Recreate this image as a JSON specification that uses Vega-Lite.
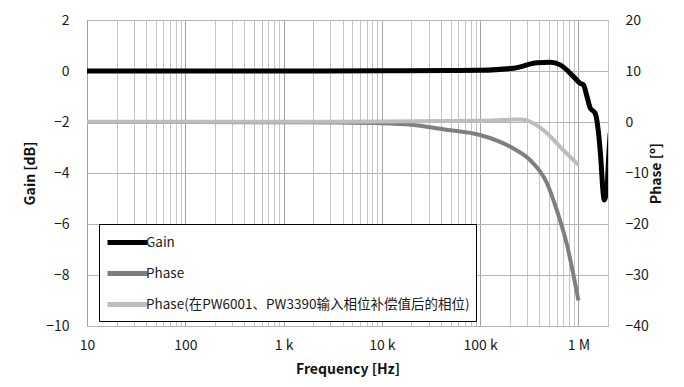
{
  "$schema": "https://vega.github.io/schema/vega-lite/v6.json",
  "width": 521,
  "height": 306,
  "autosize": {"type": "none"},
  "padding": {"left": 87, "top": 20, "right": 76, "bottom": 61},
  "background": "white",
  "config": {
    "view": {"stroke": "#a6a6a6", "strokeWidth": 1},
    "font": "Noto Sans CJK SC",
    "axis": {"labelFont": "Noto Sans CJK SC", "titleFont": "Noto Sans CJK SC", "labelColor": "#1a1a1a", "titleColor": "#111"}
  },
  "data": {
    "values": [
      {"f": 10, "s": "Gain", "v": 0},
      {"f": 100, "s": "Gain", "v": 0},
      {"f": 1000, "s": "Gain", "v": 0},
      {"f": 10000, "s": "Gain", "v": 0.01},
      {"f": 50000, "s": "Gain", "v": 0.02},
      {"f": 100000, "s": "Gain", "v": 0.03},
      {"f": 220000, "s": "Gain", "v": 0.11},
      {"f": 378000, "s": "Gain", "v": 0.32},
      {"f": 516000, "s": "Gain", "v": 0.34},
      {"f": 653000, "s": "Gain", "v": 0.24},
      {"f": 891000, "s": "Gain", "v": -0.22},
      {"f": 1042000, "s": "Gain", "v": -0.48},
      {"f": 1127000, "s": "Gain", "v": -0.55},
      {"f": 1222000, "s": "Gain", "v": -1.0},
      {"f": 1318000, "s": "Gain", "v": -1.45},
      {"f": 1483000, "s": "Gain", "v": -1.66},
      {"f": 1603000, "s": "Gain", "v": -2.44},
      {"f": 1694000, "s": "Gain", "v": -3.49},
      {"f": 1774000, "s": "Gain", "v": -4.67},
      {"f": 1828000, "s": "Gain", "v": -5.06},
      {"f": 1950000, "s": "Gain", "v": -4.67},
      {"f": 2023000, "s": "Gain", "v": -3.49},
      {"f": 2104000, "s": "Gain", "v": -2.43},
      {"f": 10, "s": "Phase", "v": 0},
      {"f": 100, "s": "Phase", "v": 0},
      {"f": 1000, "s": "Phase", "v": -0.05},
      {"f": 3000, "s": "Phase", "v": -0.1},
      {"f": 10000, "s": "Phase", "v": -0.25},
      {"f": 20000, "s": "Phase", "v": -0.55},
      {"f": 44700, "s": "Phase", "v": -1.5},
      {"f": 100000, "s": "Phase", "v": -2.55},
      {"f": 218000, "s": "Phase", "v": -5.2},
      {"f": 324000, "s": "Phase", "v": -7.5},
      {"f": 479000, "s": "Phase", "v": -12},
      {"f": 603000, "s": "Phase", "v": -17.3},
      {"f": 759000, "s": "Phase", "v": -23.8},
      {"f": 1000000, "s": "Phase", "v": -35},
      {"f": 10, "s": "Phase(在PW6001、PW3390输入相位补偿值后的相位)", "v": 0.05},
      {"f": 1000, "s": "Phase(在PW6001、PW3390输入相位补偿值后的相位)", "v": 0.05},
      {"f": 10000, "s": "Phase(在PW6001、PW3390输入相位补偿值后的相位)", "v": 0.08},
      {"f": 100000, "s": "Phase(在PW6001、PW3390输入相位补偿值后的相位)", "v": 0.25},
      {"f": 200000, "s": "Phase(在PW6001、PW3390输入相位补偿值后的相位)", "v": 0.45},
      {"f": 257000, "s": "Phase(在PW6001、PW3390输入相位补偿值后的相位)", "v": 0.5},
      {"f": 295000, "s": "Phase(在PW6001、PW3390输入相位补偿值后的相位)", "v": 0.35},
      {"f": 347000, "s": "Phase(在PW6001、PW3390输入相位补偿值后的相位)", "v": -0.25},
      {"f": 407000, "s": "Phase(在PW6001、PW3390输入相位补偿值后的相位)", "v": -1.1},
      {"f": 479000, "s": "Phase(在PW6001、PW3390输入相位补偿值后的相位)", "v": -2.2},
      {"f": 646000, "s": "Phase(在PW6001、PW3390输入相位补偿值后的相位)", "v": -4.8},
      {"f": 851000, "s": "Phase(在PW6001、PW3390输入相位补偿值后的相位)", "v": -7.1},
      {"f": 1000000, "s": "Phase(在PW6001、PW3390输入相位补偿值后的相位)", "v": -8.4}
    ]
  },
  "encoding": {
    "x": {
      "field": "f",
      "type": "quantitative",
      "scale": {"type": "log", "domain": [10, 2000000], "nice": false},
      "axis": {
        "title": "Frequency [Hz]",
        "titleFontSize": 14,
        "titleFontWeight": "bold",
        "titlePadding": 10,
        "labelFontSize": 14,
        "labelPadding": 12,
        "labelFlush": false,
        "labelOverlap": false,
        "ticks": false,
        "domain": false,
        "grid": true,
        "gridColor": {"condition": {"test": "indexof([10,100,1000,10000,100000,1000000], datum.value) >= 0", "value": "#a0a0a0"}, "value": "#c4c4c4"},
        "values": [10,20,30,40,50,60,70,80,90,100,200,300,400,500,600,700,800,900,1000,2000,3000,4000,5000,6000,7000,8000,9000,10000,20000,30000,40000,50000,60000,70000,80000,90000,100000,200000,300000,400000,500000,600000,700000,800000,900000,1000000,2000000],
        "labelExpr": "datum.value == 10 ? '10' : datum.value == 100 ? '100' : datum.value == 1000 ? '1 k' : datum.value == 10000 ? '10 k' : datum.value == 100000 ? '100 k' : datum.value == 1000000 ? '1 M' : ''"
      }
    },
    "color": {
      "field": "s",
      "type": "nominal",
      "sort": null,
      "scale": {
        "domain": ["Gain", "Phase", "Phase(在PW6001、PW3390输入相位补偿值后的相位)"],
        "range": ["#000000", "#7f7f7f", "#bdbdbd"]
      },
      "legend": {
        "title": null,
        "orient": "none",
        "legendX": 12,
        "legendY": 204,
        "symbolType": "M-1,0L3,0",
        "symbolSize": 400,
        "symbolStrokeWidth": 5,
        "labelFont": "Noto Sans CJK SC",
        "labelFontSize": 13.5,
        "labelColor": "#1a1a1a",
        "labelLimit": 500,
        "labelOffset": 16,
        "rowPadding": 8,
        "padding": 6,
        "fillColor": "white",
        "strokeColor": "#000000"
      }
    }
  },
  "layer": [
    {
      "transform": [{"filter": "datum.s != 'Gain'"}],
      "mark": {"type": "line", "strokeWidth": 4, "interpolate": "monotone", "clip": true},
      "encoding": {
        "y": {
          "field": "v",
          "type": "quantitative",
          "scale": {"domain": [-40, 20], "nice": false, "zero": false},
          "axis": {
            "orient": "right",
            "title": "Phase [º]",
            "titleAngle": 270,
            "titleFontSize": 14,
            "titleFontWeight": "bold",
            "titlePadding": 15,
            "labelFontSize": 14,
            "labelPadding": 17,
            "ticks": false,
            "domain": false,
            "grid": false,
            "values": [-40, -30, -20, -10, 0, 10, 20]
          }
        }
      }
    },
    {
      "transform": [{"filter": "datum.s == 'Gain'"}],
      "mark": {"type": "line", "strokeWidth": 5, "interpolate": "monotone", "clip": true},
      "encoding": {
        "y": {
          "field": "v",
          "type": "quantitative",
          "scale": {"domain": [-10, 2], "nice": false, "zero": false},
          "axis": {
            "orient": "left",
            "title": "Gain [dB]",
            "titleFontSize": 14,
            "titleFontWeight": "bold",
            "titlePadding": 8,
            "labelFontSize": 14,
            "labelPadding": 18,
            "ticks": false,
            "domain": false,
            "grid": true,
            "gridColor": "#b4b4b4",
            "values": [-10, -8, -6, -4, -2, 0, 2]
          }
        }
      }
    }
  ],
  "resolve": {"scale": {"y": "independent"}, "axis": {"y": "independent"}}
}
